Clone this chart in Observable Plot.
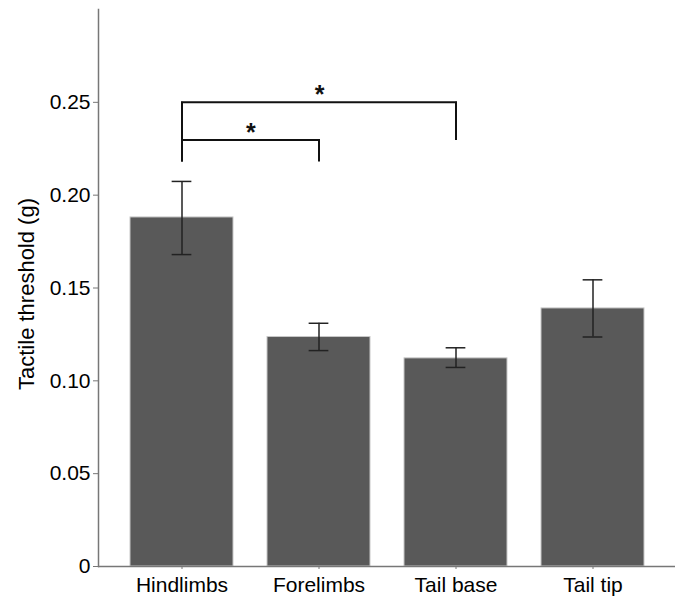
<!DOCTYPE html>
<html><head><meta charset="utf-8">
<script src="https://cdn.jsdelivr.net/npm/d3@7"></script>
<script src="https://cdn.jsdelivr.net/npm/@observablehq/plot@0.6"></script>
<style>
body{margin:0;background:#fff}
#chart svg{display:block}
</style>
</head><body><div id="chart"></div>
<script>
const categories = ["Hindlimbs", "Forelimbs", "Tail base", "Tail tip"];
const means   = [0.188, 0.1236, 0.1121, 0.1390];
const errLow  = [0.168, 0.1163, 0.1072, 0.1236];
const errHigh = [0.2074, 0.1310, 0.1178, 0.1544];
const yTicks = [0, 0.05, 0.10, 0.15, 0.20, 0.25];
const yTickLabels = ["0", "0.05", "0.10", "0.15", "0.20", "0.25"];
const yLabel = "Tactile threshold (g)";
const bracketFrom = ["Hindlimbs", "Hindlimbs"];
const bracketTo = ["Forelimbs", "Tail base"];
const bracketY = [0.2297, 0.25];
const bracketFromBottom = [0.2179, 0.2179];
const bracketToBottom = [0.2179, 0.2294];
const bracketLabels = ["*", "*"];

const data = categories.map((c, i) => ({cat: c, mean: means[i], lo: errLow[i], hi: errHigh[i]}));
const brackets = bracketFrom.map((f, i) => ({
  from: f, to: bracketTo[i], y: bracketY[i],
  fromBottom: bracketFromBottom[i], toBottom: bracketToBottom[i], label: bracketLabels[i]
}));

const W = 681, H = 597;
const mL = 98, mR = 6, mT = 9, mB = 31;
const pInner = 0.25, pOuter = 0.22;
const xb = d3.scaleBand(categories, [mL, W - mR]).paddingInner(pInner).paddingOuter(pOuter);
const capInset = (xb.bandwidth() - 20) / 2;
const font = "Liberation Sans, Arial, Helvetica, sans-serif";
const axisColor = "#777";

// one star per bracket, centred between the two bracket legs
const starMarks = brackets.map(b => Plot.text([b], {
  x: "from", y: "y", text: "label", lineAnchor: "bottom",
  fontSize: 25, fontWeight: "bold", fill: "#111",
  dx: (xb(b.to) - xb(b.from)) / 2, dy: 1
}));

const chart = Plot.plot({
  width: W, height: H,
  marginLeft: mL, marginRight: mR, marginTop: mT, marginBottom: mB,
  style: {fontFamily: font, fontSize: "21px", color: "#000", background: "#fff"},
  x: {domain: categories, paddingInner: pInner, paddingOuter: pOuter, align: 0.5},
  y: {domain: [0, 0.3]},
  marks: [
    Plot.barY(data, {x: "cat", y: "mean", fill: "#595959", stroke: "#c8c8c8", strokeWidth: 1}),
    Plot.ruleX(data, {x: "cat", y1: "lo", y2: "hi", stroke: "#222", strokeWidth: 1.5}),
    Plot.tickY(data, {x: "cat", y: "hi", stroke: "#222", strokeWidth: 1.5, inset: capInset}),
    Plot.tickY(data, {x: "cat", y: "lo", stroke: "#222", strokeWidth: 1.5, inset: capInset}),
    Plot.link(brackets, {x1: "from", x2: "to", y1: "y", y2: "y", stroke: "#111", strokeWidth: 2, strokeLinecap: "square"}),
    Plot.ruleX(brackets, {x: "from", y1: "fromBottom", y2: "y", stroke: "#111", strokeWidth: 2}),
    Plot.ruleX(brackets, {x: "to", y1: "toBottom", y2: "y", stroke: "#111", strokeWidth: 2}),
    ...starMarks,
    Plot.ruleY([0], {stroke: axisColor, strokeWidth: 1.5}),
    Plot.frame({anchor: "left", stroke: axisColor, strokeWidth: 1.5}),
    Plot.axisY({ticks: yTicks, tickFormat: (d, i) => yTickLabels[i], tickSize: 5, tickPadding: 3,
      stroke: axisColor, fill: "#000", fontSize: 21, label: null}),
    Plot.text([yLabel], {text: d => d, frameAnchor: "left", rotate: -90, dx: -72, dy: 6,
      textAnchor: "middle", lineAnchor: "middle", fontSize: 22, fill: "#000"}),
    Plot.axisX({tickSize: 3, tickPadding: 8, stroke: axisColor, fill: "#000", fontSize: 21, label: null})
  ]
});
document.getElementById("chart").appendChild(chart);
</script>
</body></html>
